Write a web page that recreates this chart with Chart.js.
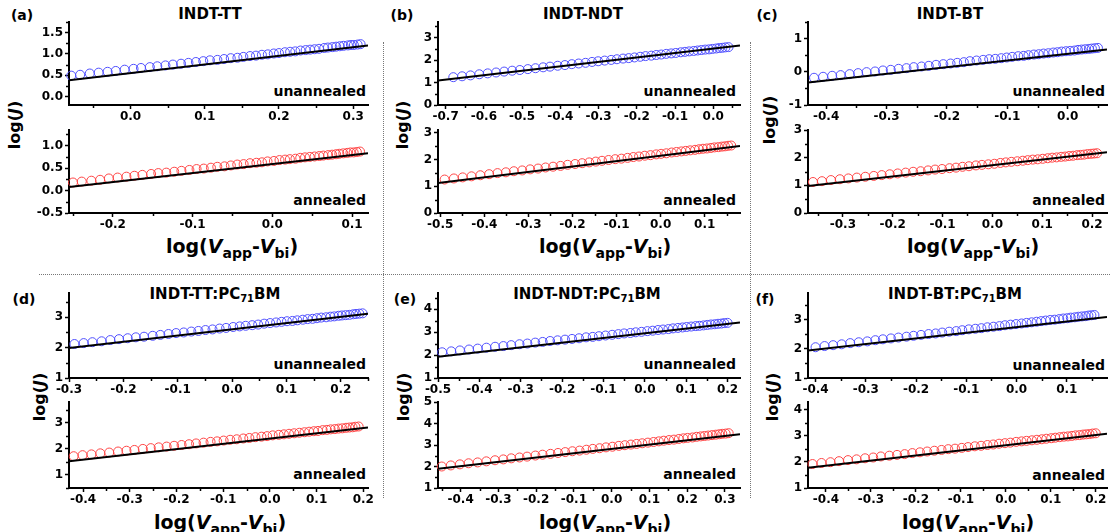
<!DOCTYPE html>
<html>
<head>
<meta charset="utf-8">
<script src="https://cdn.jsdelivr.net/npm/chart.js@4.4.1/dist/chart.umd.min.js"></script>
<style>
body { margin:0; width:1110px; height:532px; position:relative; overflow:hidden; background:#fff;
       font-family:"DejaVu Sans", sans-serif; font-weight:bold; color:#000; }
canvas { position:absolute; }
.t { position:absolute; white-space:nowrap; transform:translate(-50%,-50%); line-height:1; }
.lt { font-size:14px; }
.tt { font-size:15px; }
.tt sub { font-size:10px; vertical-align:-3px; line-height:0; }
.u { position:absolute; white-space:nowrap; transform:translate(-100%,-50%); font-size:14px; line-height:1; }
.xt { font-size:19px; }
.xt sub { font-size:14px; vertical-align:-5px; line-height:0; }
.yt { font-size:16px; transform:translate(-50%,-50%) rotate(-90deg); }
.hl { position:absolute; border-top:1px dotted #777; height:0; }
.vl { position:absolute; border-left:1px dotted #777; width:0; }
</style>
</head>
<body>

<div class="hl" style="left:39px;top:274px;width:1071px"></div>
<div class="vl" style="left:383px;top:42px;height:456px"></div>
<div class="vl" style="left:750px;top:42px;height:456px"></div>

<div class="t lt" style="left:22px;top:15px">(a)</div>
<div class="t lt" style="left:402px;top:15px">(b)</div>
<div class="t lt" style="left:767px;top:15px">(c)</div>
<div class="t lt" style="left:24px;top:299px">(d)</div>
<div class="t lt" style="left:405px;top:299px">(e)</div>
<div class="t lt" style="left:765px;top:299px">(f)</div>

<div class="t tt" style="left:210px;top:14px">INDT-TT</div>
<div class="t tt" style="left:583px;top:14px">INDT-NDT</div>
<div class="t tt" style="left:950px;top:14px">INDT-BT</div>
<div class="t tt" style="left:215px;top:294px">INDT-TT:PC<sub>71</sub>BM</div>
<div class="t tt" style="left:587px;top:294px">INDT-NDT:PC<sub>71</sub>BM</div>
<div class="t tt" style="left:955px;top:294px">INDT-BT:PC<sub>71</sub>BM</div>

<div class="u" style="left:366px;top:91px">unannealed</div>
<div class="u" style="left:366px;top:200px">annealed</div>
<div class="u" style="left:736px;top:91px">unannealed</div>
<div class="u" style="left:736px;top:200px">annealed</div>
<div class="u" style="left:1105px;top:91px">unannealed</div>
<div class="u" style="left:1105px;top:200px">annealed</div>
<div class="u" style="left:366px;top:364px">unannealed</div>
<div class="u" style="left:366px;top:474px">annealed</div>
<div class="u" style="left:736px;top:364px">unannealed</div>
<div class="u" style="left:736px;top:474px">annealed</div>
<div class="u" style="left:1105px;top:365px">unannealed</div>
<div class="u" style="left:1105px;top:475px">annealed</div>

<div class="t xt" style="left:232px;top:246px">log(<i>V</i><sub>app</sub>-<i>V</i><sub>bi</sub>)</div>
<div class="t xt" style="left:605px;top:246px">log(<i>V</i><sub>app</sub>-<i>V</i><sub>bi</sub>)</div>
<div class="t xt" style="left:973px;top:246px">log(<i>V</i><sub>app</sub>-<i>V</i><sub>bi</sub>)</div>
<div class="t xt" style="left:220px;top:522px">log(<i>V</i><sub>app</sub>-<i>V</i><sub>bi</sub>)</div>
<div class="t xt" style="left:605px;top:522px">log(<i>V</i><sub>app</sub>-<i>V</i><sub>bi</sub>)</div>
<div class="t xt" style="left:968px;top:522px">log(<i>V</i><sub>app</sub>-<i>V</i><sub>bi</sub>)</div>

<div class="t yt" style="left:15px;top:125px">log(<i>J</i>)</div>
<div class="t yt" style="left:403px;top:125px">log(<i>J</i>)</div>
<div class="t yt" style="left:770px;top:120px">log(<i>J</i>)</div>
<div class="t yt" style="left:40px;top:397px">log(<i>J</i>)</div>
<div class="t yt" style="left:404px;top:397px">log(<i>J</i>)</div>
<div class="t yt" style="left:773px;top:397px">log(<i>J</i>)</div>

<script>
// (a) INDT-TT
const aUnX = [-0.080,-0.068,-0.055,-0.043,-0.031,-0.020,-0.008,0.004,0.014,0.026,0.036,0.047,0.057,0.068,0.078,0.088,0.098,0.107,0.117,0.126,0.135,0.144,0.152,0.161,0.169,0.177,0.185,0.193,0.200,0.208,0.215,0.222,0.229,0.236,0.242,0.248,0.254,0.261,0.266,0.272,0.277,0.282,0.287,0.293,0.297,0.301,0.306,0.310];
const aUnY = [0.49,0.51,0.54,0.56,0.58,0.60,0.63,0.65,0.67,0.69,0.71,0.73,0.75,0.77,0.79,0.81,0.83,0.85,0.86,0.88,0.90,0.91,0.93,0.95,0.96,0.98,0.99,1.01,1.02,1.04,1.05,1.06,1.08,1.09,1.10,1.11,1.12,1.14,1.15,1.16,1.17,1.18,1.19,1.20,1.21,1.21,1.22,1.23];
const aUnFitX = [-0.083, 0.32], aUnFitY = [0.38, 1.20];
const aAnX = [-0.250,-0.239,-0.227,-0.216,-0.205,-0.194,-0.183,-0.173,-0.163,-0.152,-0.143,-0.133,-0.123,-0.114,-0.104,-0.095,-0.086,-0.077,-0.069,-0.060,-0.052,-0.044,-0.036,-0.028,-0.020,-0.013,-0.006,0.002,0.009,0.016,0.022,0.029,0.035,0.041,0.047,0.053,0.059,0.064,0.070,0.075,0.080,0.084,0.089,0.094,0.098,0.102,0.106,0.110];
const aAnY = [0.18,0.20,0.22,0.24,0.27,0.29,0.31,0.33,0.35,0.37,0.39,0.40,0.42,0.44,0.46,0.48,0.49,0.51,0.53,0.54,0.56,0.58,0.59,0.61,0.62,0.63,0.65,0.66,0.68,0.69,0.70,0.71,0.73,0.74,0.75,0.76,0.77,0.78,0.79,0.80,0.81,0.82,0.83,0.84,0.85,0.85,0.86,0.87];
const aAnFitX = [-0.255, 0.12], aAnFitY = [0.08, 0.83];

// (b) INDT-NDT
const bUnX = [-0.680,-0.657,-0.635,-0.612,-0.590,-0.568,-0.547,-0.526,-0.506,-0.485,-0.465,-0.445,-0.427,-0.407,-0.388,-0.370,-0.352,-0.334,-0.317,-0.301,-0.284,-0.267,-0.252,-0.236,-0.221,-0.206,-0.191,-0.177,-0.162,-0.149,-0.136,-0.123,-0.110,-0.098,-0.085,-0.074,-0.063,-0.051,-0.041,-0.031,-0.021,-0.011,-0.002,0.008,0.016,0.024,0.032,0.040];
const bUnY = [1.24,1.28,1.32,1.37,1.41,1.45,1.49,1.53,1.56,1.60,1.64,1.68,1.71,1.75,1.78,1.82,1.85,1.88,1.92,1.95,1.98,2.01,2.04,2.07,2.09,2.12,2.15,2.18,2.20,2.23,2.25,2.28,2.30,2.32,2.35,2.37,2.39,2.41,2.43,2.45,2.47,2.48,2.50,2.52,2.54,2.55,2.57,2.58];
const bUnFitX = [-0.72, 0.07], bUnFitY = [1.09, 2.65];
const bAnX = [-0.490,-0.469,-0.449,-0.429,-0.409,-0.389,-0.370,-0.351,-0.333,-0.314,-0.296,-0.278,-0.261,-0.244,-0.227,-0.211,-0.194,-0.178,-0.162,-0.147,-0.133,-0.118,-0.103,-0.089,-0.075,-0.062,-0.049,-0.036,-0.023,-0.010,0.001,0.013,0.025,0.036,0.047,0.057,0.067,0.078,0.087,0.096,0.105,0.114,0.122,0.131,0.139,0.146,0.153,0.160];
const bAnY = [1.25,1.29,1.33,1.37,1.41,1.45,1.49,1.52,1.56,1.59,1.63,1.66,1.70,1.73,1.76,1.80,1.83,1.86,1.89,1.92,1.95,1.98,2.01,2.03,2.06,2.09,2.11,2.14,2.16,2.19,2.21,2.23,2.26,2.28,2.30,2.32,2.34,2.36,2.38,2.40,2.41,2.43,2.45,2.46,2.48,2.49,2.51,2.52];
const bAnFitX = [-0.505, 0.18], bAnFitY = [1.12, 2.50];

// (c) INDT-BT
const cUnX = [-0.420,-0.405,-0.390,-0.376,-0.361,-0.347,-0.333,-0.319,-0.306,-0.293,-0.280,-0.267,-0.255,-0.242,-0.230,-0.218,-0.206,-0.194,-0.183,-0.172,-0.162,-0.151,-0.140,-0.130,-0.120,-0.110,-0.101,-0.092,-0.082,-0.073,-0.065,-0.056,-0.048,-0.040,-0.032,-0.024,-0.017,-0.010,-0.003,0.004,0.011,0.017,0.023,0.029,0.035,0.040,0.045,0.050];
const cUnY = [-0.18,-0.15,-0.12,-0.10,-0.07,-0.04,-0.01,0.01,0.04,0.06,0.09,0.11,0.14,0.16,0.18,0.21,0.23,0.25,0.27,0.29,0.32,0.34,0.36,0.38,0.39,0.41,0.43,0.45,0.47,0.48,0.50,0.52,0.53,0.55,0.56,0.58,0.59,0.61,0.62,0.63,0.64,0.66,0.67,0.68,0.69,0.70,0.71,0.72];
const cUnFitX = [-0.43, 0.065], cUnFitY = [-0.32, 0.67];
const cAnX = [-0.360,-0.342,-0.324,-0.306,-0.289,-0.272,-0.255,-0.238,-0.222,-0.206,-0.190,-0.174,-0.159,-0.144,-0.129,-0.115,-0.101,-0.086,-0.073,-0.060,-0.047,-0.033,-0.021,-0.008,0.004,0.016,0.027,0.038,0.050,0.061,0.071,0.081,0.091,0.101,0.111,0.120,0.129,0.138,0.146,0.154,0.162,0.170,0.177,0.184,0.191,0.198,0.204,0.210];
const cAnY = [1.12,1.15,1.19,1.22,1.25,1.28,1.31,1.34,1.37,1.40,1.43,1.46,1.49,1.51,1.54,1.57,1.59,1.62,1.64,1.67,1.69,1.72,1.74,1.76,1.78,1.81,1.83,1.85,1.87,1.89,1.91,1.93,1.94,1.96,1.98,2.00,2.01,2.03,2.04,2.06,2.07,2.09,2.10,2.11,2.13,2.14,2.15,2.16];
const cAnFitX = [-0.37, 0.23], cAnFitY = [0.98, 2.20];

// (d) INDT-TT:PC71BM
const dUnX = [-0.290,-0.273,-0.257,-0.240,-0.224,-0.208,-0.192,-0.177,-0.162,-0.146,-0.132,-0.117,-0.103,-0.089,-0.075,-0.062,-0.049,-0.036,-0.023,-0.011,0.002,0.014,0.025,0.037,0.048,0.059,0.070,0.081,0.091,0.101,0.111,0.120,0.130,0.139,0.148,0.156,0.164,0.173,0.181,0.188,0.196,0.202,0.209,0.216,0.223,0.228,0.234,0.240];
const dUnY = [2.12,2.15,2.18,2.21,2.25,2.28,2.31,2.34,2.36,2.39,2.42,2.45,2.48,2.50,2.53,2.55,2.58,2.60,2.63,2.65,2.68,2.70,2.72,2.74,2.76,2.79,2.81,2.83,2.85,2.87,2.88,2.90,2.92,2.94,2.95,2.97,2.99,3.00,3.02,3.03,3.05,3.06,3.07,3.08,3.10,3.11,3.12,3.13];
const dUnFitX = [-0.30, 0.25], dUnFitY = [1.99, 3.12];
const dAnX = [-0.420,-0.401,-0.382,-0.363,-0.344,-0.325,-0.307,-0.290,-0.272,-0.255,-0.238,-0.221,-0.205,-0.189,-0.173,-0.158,-0.142,-0.127,-0.113,-0.099,-0.085,-0.071,-0.057,-0.044,-0.031,-0.018,-0.006,0.006,0.019,0.030,0.041,0.052,0.063,0.074,0.084,0.094,0.103,0.113,0.122,0.130,0.139,0.147,0.155,0.163,0.170,0.177,0.183,0.190];
const dAnY = [1.72,1.76,1.79,1.83,1.86,1.90,1.93,1.96,2.00,2.03,2.06,2.09,2.12,2.15,2.18,2.21,2.24,2.27,2.29,2.32,2.35,2.37,2.40,2.42,2.45,2.47,2.49,2.52,2.54,2.56,2.58,2.60,2.62,2.64,2.66,2.68,2.69,2.72,2.73,2.75,2.76,2.78,2.79,2.81,2.82,2.83,2.85,2.86];
const dAnFitX = [-0.43, 0.21], dAnFitY = [1.53, 2.82];

// (e) INDT-NDT:PC71BM
const eUnX = [-0.490,-0.468,-0.447,-0.425,-0.404,-0.383,-0.362,-0.342,-0.323,-0.303,-0.284,-0.265,-0.247,-0.229,-0.211,-0.193,-0.176,-0.159,-0.142,-0.126,-0.111,-0.095,-0.079,-0.064,-0.050,-0.035,-0.022,-0.008,0.006,0.019,0.032,0.044,0.057,0.068,0.080,0.091,0.101,0.112,0.123,0.132,0.142,0.151,0.160,0.169,0.177,0.185,0.192,0.200];
const eUnY = [2.12,2.16,2.20,2.24,2.28,2.32,2.36,2.39,2.43,2.47,2.50,2.54,2.57,2.61,2.64,2.67,2.70,2.73,2.77,2.79,2.82,2.85,2.88,2.91,2.94,2.96,2.99,3.01,3.04,3.06,3.09,3.11,3.13,3.16,3.18,3.20,3.22,3.24,3.26,3.27,3.29,3.31,3.33,3.34,3.36,3.37,3.39,3.40];
const eUnFitX = [-0.50, 0.23], eUnFitY = [1.93, 3.42];
const eAnX = [-0.450,-0.426,-0.402,-0.379,-0.355,-0.332,-0.309,-0.287,-0.266,-0.244,-0.224,-0.202,-0.183,-0.162,-0.142,-0.123,-0.104,-0.085,-0.067,-0.050,-0.032,-0.015,0.002,0.019,0.035,0.051,0.066,0.081,0.096,0.111,0.125,0.138,0.152,0.165,0.178,0.190,0.201,0.214,0.225,0.236,0.246,0.256,0.266,0.276,0.285,0.293,0.302,0.310];
const eAnY = [2.00,2.05,2.10,2.15,2.19,2.24,2.29,2.33,2.38,2.42,2.46,2.51,2.55,2.59,2.63,2.67,2.71,2.74,2.78,2.82,2.85,2.89,2.92,2.96,2.99,3.02,3.05,3.08,3.11,3.14,3.17,3.20,3.23,3.25,3.28,3.31,3.33,3.35,3.38,3.40,3.42,3.44,3.46,3.48,3.50,3.52,3.53,3.55];
const eAnFitX = [-0.46, 0.34], eAnFitY = [1.90, 3.50];

// (f) INDT-BT:PC71BM
const fUnX = [-0.400,-0.382,-0.365,-0.348,-0.331,-0.314,-0.297,-0.281,-0.266,-0.250,-0.235,-0.219,-0.205,-0.190,-0.175,-0.161,-0.148,-0.134,-0.120,-0.108,-0.095,-0.082,-0.070,-0.058,-0.046,-0.034,-0.023,-0.012,-0.001,0.010,0.020,0.030,0.040,0.049,0.058,0.067,0.076,0.085,0.093,0.101,0.108,0.116,0.123,0.130,0.137,0.143,0.149,0.155];
const fUnY = [2.05,2.09,2.12,2.15,2.19,2.22,2.25,2.29,2.32,2.35,2.38,2.41,2.44,2.47,2.50,2.52,2.55,2.58,2.60,2.63,2.66,2.68,2.70,2.73,2.75,2.77,2.80,2.82,2.84,2.86,2.88,2.90,2.92,2.94,2.96,2.98,2.99,3.01,3.03,3.04,3.06,3.07,3.09,3.10,3.11,3.13,3.14,3.15];
const fUnFitX = [-0.415, 0.18], fUnFitY = [1.94, 3.08];
const fAnX = [-0.430,-0.410,-0.390,-0.371,-0.351,-0.332,-0.313,-0.295,-0.278,-0.259,-0.242,-0.225,-0.208,-0.191,-0.175,-0.159,-0.143,-0.128,-0.113,-0.098,-0.084,-0.069,-0.055,-0.041,-0.028,-0.015,-0.002,0.010,0.023,0.035,0.046,0.058,0.069,0.080,0.090,0.101,0.110,0.120,0.129,0.138,0.147,0.155,0.164,0.172,0.179,0.186,0.193,0.200];
const fAnY = [1.92,1.96,1.99,2.03,2.07,2.10,2.14,2.17,2.21,2.24,2.27,2.30,2.34,2.37,2.40,2.43,2.46,2.49,2.51,2.54,2.57,2.60,2.62,2.65,2.67,2.70,2.72,2.74,2.77,2.79,2.81,2.83,2.85,2.87,2.89,2.91,2.93,2.95,2.97,2.98,3.00,3.02,3.03,3.05,3.06,3.07,3.09,3.10];
const fAnFitX = [-0.44, 0.225], fAnFitY = [1.78, 3.08];

// tick labels
const aUnXTicks = [0.0, 0.1, 0.2, 0.3], aUnYTicks = [0.0, 0.5, 1.0, 1.5];
const aAnXTicks = [-0.2, -0.1, 0.0, 0.1], aAnYTicks = [-0.5, 0.0, 0.5, 1.0];
const bUnXTicks = [-0.7, -0.6, -0.5, -0.4, -0.3, -0.2, -0.1, 0.0], bUnYTicks = [0, 1, 2, 3];
const bAnXTicks = [-0.5, -0.4, -0.3, -0.2, -0.1, 0.0, 0.1], bAnYTicks = [0, 1, 2, 3];
const cUnXTicks = [-0.4, -0.3, -0.2, -0.1, 0.0], cUnYTicks = [-1, 0, 1];
const cAnXTicks = [-0.3, -0.2, -0.1, 0.0, 0.1, 0.2], cAnYTicks = [0, 1, 2, 3];
const dUnXTicks = [-0.3, -0.2, -0.1, 0.0, 0.1, 0.2], dUnYTicks = [1, 2, 3];
const dAnXTicks = [-0.4, -0.3, -0.2, -0.1, 0.0, 0.1, 0.2], dAnYTicks = [1, 2, 3];
const eUnXTicks = [-0.5, -0.4, -0.3, -0.2, -0.1, 0.0, 0.1, 0.2], eUnYTicks = [1, 2, 3, 4];
const eAnXTicks = [-0.4, -0.3, -0.2, -0.1, 0.0, 0.1, 0.2, 0.3], eAnYTicks = [1, 2, 3, 4, 5];
const fUnXTicks = [-0.4, -0.3, -0.2, -0.1, 0.0, 0.1], fUnYTicks = [1, 2, 3];
const fAnXTicks = [-0.4, -0.3, -0.2, -0.1, 0.0, 0.1, 0.2], fAnYTicks = [1, 2, 3, 4];

const BLUE = 'rgb(80,80,255)', RED = 'rgb(255,70,70)';

// box = [left, top, width, height] of each plot area, px
const plots = [
  {box:[69,22,299,83],   x:aUnX, y:aUnY, fx:aUnFitX, fy:aUnFitY, xr:[-0.083,0.32], yr:[-0.2,1.75], xt:aUnXTicks, yt:aUnYTicks, yd:1, c:BLUE},
  {box:[69,130,299,83],  x:aAnX, y:aAnY, fx:aAnFitX, fy:aAnFitY, xr:[-0.255,0.12], yr:[-0.5,1.35], xt:aAnXTicks, yt:aAnYTicks, yd:1, c:RED},
  {box:[438,22,302,83],  x:bUnX, y:bUnY, fx:bUnFitX, fy:bUnFitY, xr:[-0.72,0.07],  yr:[0,3.7],     xt:bUnXTicks, yt:bUnYTicks, yd:0, c:BLUE},
  {box:[438,130,302,83], x:bAnX, y:bAnY, fx:bAnFitX, fy:bAnFitY, xr:[-0.505,0.18], yr:[0,3.1],     xt:bAnXTicks, yt:bAnYTicks, yd:0, c:RED},
  {box:[808,22,299,83],  x:cUnX, y:cUnY, fx:cUnFitX, fy:cUnFitY, xr:[-0.43,0.065], yr:[-1,1.5],    xt:cUnXTicks, yt:cUnYTicks, yd:0, c:BLUE},
  {box:[808,130,299,83], x:cAnX, y:cAnY, fx:cAnFitX, fy:cAnFitY, xr:[-0.37,0.23],  yr:[0,3],       xt:cAnXTicks, yt:cAnYTicks, yd:0, c:RED},
  {box:[69,293,299,85],  x:dUnX, y:dUnY, fx:dUnFitX, fy:dUnFitY, xr:[-0.3,0.25],   yr:[1,3.8],     xt:dUnXTicks, yt:dUnYTicks, yd:0, c:BLUE},
  {box:[69,402,299,86],  x:dAnX, y:dAnY, fx:dAnFitX, fy:dAnFitY, xr:[-0.43,0.21],  yr:[0.5,3.8],   xt:dAnXTicks, yt:dAnYTicks, yd:0, c:RED},
  {box:[438,293,302,85], x:eUnX, y:eUnY, fx:eUnFitX, fy:eUnFitY, xr:[-0.5,0.23],   yr:[1,4.7],     xt:eUnXTicks, yt:eUnYTicks, yd:0, c:BLUE},
  {box:[438,402,302,86], x:eAnX, y:eAnY, fx:eAnFitX, fy:eAnFitY, xr:[-0.46,0.34],  yr:[1,5],       xt:eAnXTicks, yt:eAnYTicks, yd:0, c:RED},
  {box:[808,293,299,85], x:fUnX, y:fUnY, fx:fUnFitX, fy:fUnFitY, xr:[-0.415,0.18], yr:[1,3.9],     xt:fUnXTicks, yt:fUnYTicks, yd:0, c:BLUE},
  {box:[808,402,299,86], x:fAnX, y:fAnY, fx:fAnFitX, fy:fAnFitY, xr:[-0.44,0.225], yr:[1,4.3],     xt:fAnXTicks, yt:fAnYTicks, yd:0, c:RED}
];

// minor ticks halfway between the major ones
const minorTicks = {
  id: 'minorTicks',
  afterDraw(chart) {
    const ctx = chart.ctx;
    ctx.save();
    ctx.strokeStyle = '#000';
    ctx.lineWidth = 1.5;
    ['x', 'y'].forEach(id => {
      const s = chart.scales[id];
      const v = s.ticks.map(t => t.value);
      const half = (v[1] - v[0]) / 2;
      const m = [];
      for (let i = 0; i < v.length - 1; i++) m.push(v[i] + half);
      if (v[0] - half >= s.min) m.push(v[0] - half);
      if (v[v.length - 1] + half <= s.max) m.push(v[v.length - 1] + half);
      m.forEach(val => {
        const p = Math.round(s.getPixelForValue(val)) + 0.5;
        ctx.beginPath();
        if (id === 'x') { ctx.moveTo(p, s.top); ctx.lineTo(p, s.top + 3); }
        else { ctx.moveTo(s.right, p); ctx.lineTo(s.right - 3, p); }
        ctx.stroke();
      });
    });
    ctx.restore();
  }
};

const tickFont = {family: '"DejaVu Sans", sans-serif', size: 12, weight: 'bold'};
const grid = {display: true, drawOnChartArea: false, drawTicks: true, tickLength: 4, tickColor: '#000', tickWidth: 1.5};
const border = {display: true, color: '#000', width: 2};

function makePlot(p) {
  const padL = 44, padT = 10, padR = 16, padB = 24;
  const cv = document.createElement('canvas');
  cv.width = p.box[2] + padL + padR;
  cv.height = p.box[3] + padT + padB;
  cv.style.left = (p.box[0] - padL) + 'px';
  cv.style.top = (p.box[1] - padT) + 'px';
  document.body.appendChild(cv);

  new Chart(cv, {
    type: 'scatter',
    data: {
      datasets: [
        {
          type: 'line',
          data: p.fx.map((v, i) => ({x: v, y: p.fy[i]})),
          borderColor: '#000', borderWidth: 2, pointRadius: 0, fill: false, order: 0
        },
        {
          data: p.x.map((v, i) => ({x: v, y: p.y[i]})),
          pointStyle: 'circle', pointRadius: 4.5, borderWidth: 1,
          borderColor: p.c, backgroundColor: 'rgba(0,0,0,0)', order: 1, clip: false
        }
      ]
    },
    options: {
      responsive: false, animation: false, devicePixelRatio: 1,
      layout: {padding: {top: padT, right: padR, left: 0, bottom: 0}},
      plugins: {legend: {display: false}, tooltip: {enabled: false}},
      scales: {
        x: {
          type: 'linear', min: p.xr[0], max: p.xr[1],
          afterBuildTicks: s => { s.ticks = p.xt.map(v => ({value: v})); },
          afterFit: s => { s.height = padB; },
          ticks: {callback: v => v.toFixed(1), font: tickFont, color: '#000', padding: 1, maxRotation: 0, autoSkip: false},
          grid: grid, border: border
        },
        y: {
          type: 'linear', min: p.yr[0], max: p.yr[1],
          afterBuildTicks: s => { s.ticks = p.yt.map(v => ({value: v})); },
          afterFit: s => { s.width = padL; },
          ticks: {callback: v => v.toFixed(p.yd), font: tickFont, color: '#000', padding: 2, autoSkip: false},
          grid: grid, border: border
        }
      }
    },
    plugins: [minorTicks]
  });
}

plots.forEach(makePlot);
</script>
</body>
</html>
